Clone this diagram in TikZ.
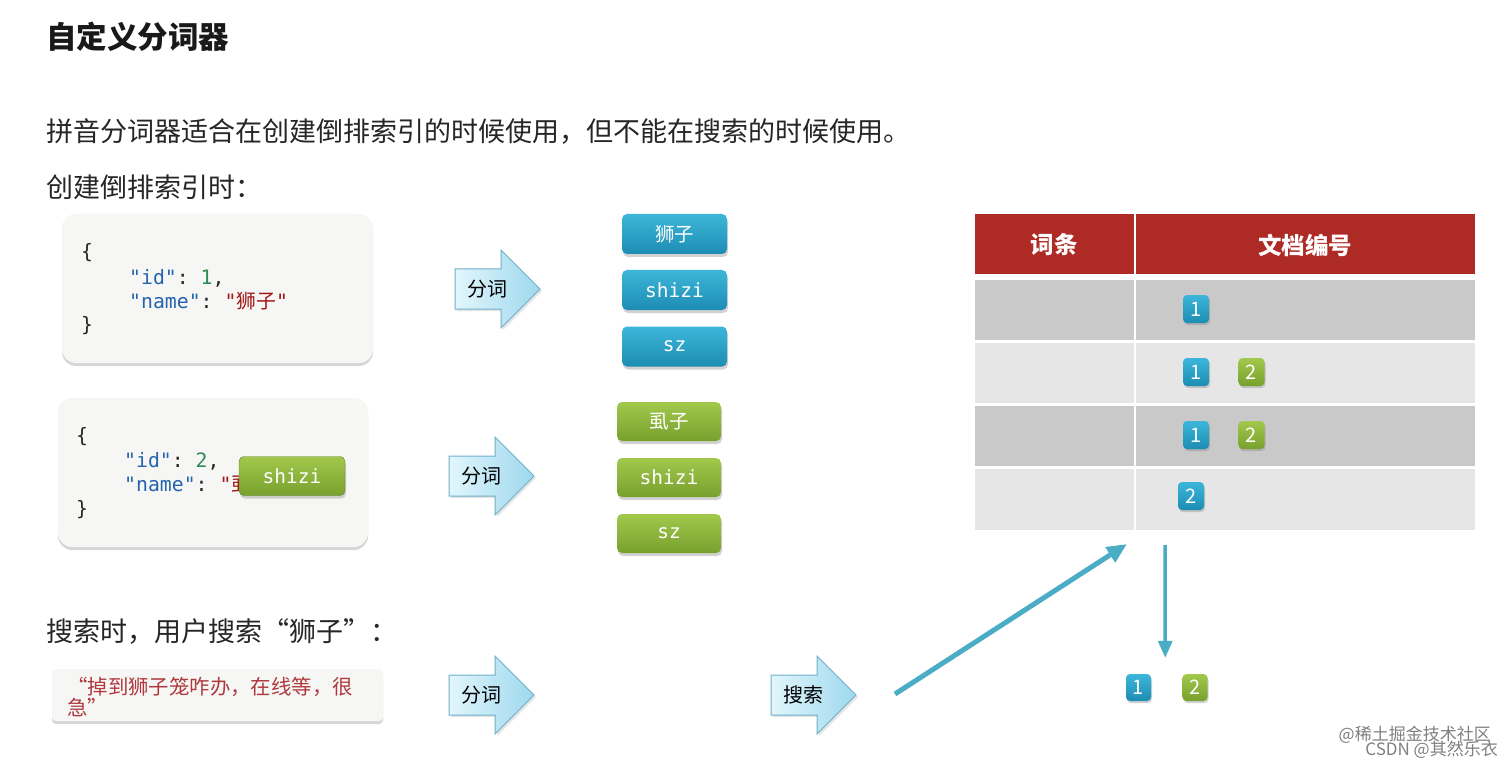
\documentclass[tikz,border=0pt]{standalone}
\usepackage{fontspec}
\setmainfont{Noto Sans CJK SC}
\setmonofont{DejaVu Sans Mono}
\newfontfamily\cjk{Noto Sans CJK SC}
\usetikzlibrary{shadows,arrows.meta,calc}
\definecolor{textdark}{HTML}{262626}
\definecolor{codebg}{HTML}{F6F7F4}
\definecolor{keyblue}{HTML}{2463AD}
\definecolor{numgreen}{HTML}{2E8B57}
\definecolor{strred}{HTML}{A31515}
\definecolor{btnbluetop}{HTML}{3DB6DA}
\definecolor{btnbluebot}{HTML}{1D8CB3}
\definecolor{btngreentop}{HTML}{A2C84C}
\definecolor{btngreenbot}{HTML}{78A02D}
\definecolor{arrowleft}{HTML}{E2F6FC}
\definecolor{arrowright}{HTML}{9ED8EE}
\definecolor{arrowborder}{HTML}{6FB0CB}
\definecolor{headred}{HTML}{AE2A24}
\definecolor{rowdark}{HTML}{C9C9C9}
\definecolor{rowlight}{HTML}{E6E6E6}
\definecolor{teal}{HTML}{4BACC6}
\definecolor{quotered}{HTML}{B0393F}
\definecolor{quotebg}{HTML}{F7F7F2}
\tikzset{
  every node/.style={inner sep=0pt},
  txt/.style={anchor=west, text=textdark, font=\fontsize{27}{30}\selectfont},
  codebox/.style={fill=codebg, rounded corners=14pt,
    drop shadow={fill=black!45, opacity=0.35, shadow xshift=0pt, shadow yshift=-3pt}},
  code/.style={anchor=west, font=\ttfamily\fontsize{19.8}{22}\selectfont, text=textdark},
  btn/.style={rounded corners=5pt, text=white, font=\ttfamily\fontsize{19.5}{22}\selectfont,
    drop shadow={fill=black!50, opacity=0.35, shadow xshift=1pt, shadow yshift=-3pt}},
  btnblue/.style={btn, top color=btnbluetop, bottom color=btnbluebot, minimum width=105pt, minimum height=40pt},
  btngreen/.style={btn, top color=btngreentop, bottom color=btngreenbot, minimum width=104pt, minimum height=39pt},
  badge/.style={rounded corners=4pt, text=white, font=\fontsize{20}{22}\selectfont,
    minimum width=26pt, minimum height=28pt,
    drop shadow={fill=black!50, opacity=0.35, shadow xshift=1pt, shadow yshift=-2pt}},
  badgeblue/.style={badge, top color=btnbluetop, bottom color=btnbluebot},
  badgegreen/.style={badge, top color=btngreentop, bottom color=btngreenbot},
  arrowshape/.style={draw=arrowborder, line width=1pt, left color=arrowleft, right color=arrowright,
    drop shadow={fill=black!40, opacity=0.25, shadow xshift=2pt, shadow yshift=-2pt}},
  arrowtext/.style={text=black, font=\fontsize{20}{22}\selectfont},
  conn/.style={draw=teal, line width=5pt, -{Triangle[length=20pt,width=17pt]}},
  conn2/.style={draw=teal, line width=3.5pt, -{Triangle[length=17pt,width=14pt]}},
}
\newcommand\fcarrow[4]{%
  \begin{scope}[shift={(#2,#3)}]
    \path[arrowshape] (0,-20) -- (46,-20) -- (46,-39) -- (85,0) -- (46,39) -- (46,20) -- (0,20) -- cycle;
    \node[arrowtext] (#1) at (32,0) {#4};
  \end{scope}}
\begin{document}
\begin{tikzpicture}[x=1pt,y=-1pt]
\useasboundingbox[fill=white] (0,0) rectangle (1512,767);

% headings
\node[txt, font=\bfseries\fontsize{30.5}{33}\selectfont, text=black!90] (title) at (46,37) {自定义分词器};
\node[txt] (l1) at (46,131) {拼音分词器适合在创建倒排索引的时候使用，但不能在搜索的时候使用。};
\node[txt] (l2) at (46,187) {创建倒排索引时：};
\node[txt] (l3) at (46,632) {搜索时，用户搜索“狮子”：};

% code box 1
\path[codebox] (62,214) rectangle (373,363);
\node[code] (c1a) at (81,253) {\{};
\node[code] (c1b) at (129,278) {\textcolor{keyblue}{"id"}: \textcolor{numgreen}{1},};
\node[code] (c1c) at (129,301) {\textcolor{keyblue}{"name"}: \textcolor{strred}{"{\cjk 狮子}"}};
\node[code] (c1d) at (81,326) {\}};

% code box 2
\path[codebox] (58,398) rectangle (368,547);
\node[code] (c2a) at (76,437) {\{};
\node[code] (c2b) at (124,461) {\textcolor{keyblue}{"id"}: \textcolor{numgreen}{2},};
\node[code] (c2c) at (124,485) {\textcolor{keyblue}{"name"}: \textcolor{strred}{"{\cjk 虱子}"}};
\node[code] (c2d) at (76,510) {\}};
\node[btngreen, minimum width=106pt, minimum height=39pt, draw=btngreenbot!80!black] (ov) at (292,476) {shizi};

% arrows
\fcarrow{a1}{455}{289}{分词}
\fcarrow{a2}{449}{476}{分词}
\fcarrow{a3}{449}{695}{分词}
\fcarrow{a4}{771}{695}{搜索}

% token buttons
\node[btnblue] (t1) at (674.5,234) {{\cjk 狮子}};
\node[btnblue] (t2) at (674.5,290) {shizi};
\node[btnblue] (t3) at (674.5,346.5) {sz};
\node[btngreen] (g1) at (669,421.5) {{\cjk 虱子}};
\node[btngreen] (g2) at (669,477.5) {shizi};
\node[btngreen] (g3) at (669,533.5) {sz};

% table
\fill[headred] (975,214) rectangle (1475,274);
\fill[white] (1133.5,214) rectangle (1136,274);
\fill[rowdark] (975,280) rectangle (1133.5,340);
\fill[rowdark] (1136,280) rectangle (1475,340);
\fill[rowlight] (975,343) rectangle (1133.5,403);
\fill[rowlight] (1136,343) rectangle (1475,403);
\fill[rowdark] (975,406) rectangle (1133.5,466);
\fill[rowdark] (1136,406) rectangle (1475,466);
\fill[rowlight] (975,469) rectangle (1133.5,530);
\fill[rowlight] (1136,469) rectangle (1475,530);
\node[text=white, font=\bfseries\fontsize{23.5}{26}\selectfont] (h1) at (1054,245) {词条};
\node[text=white, font=\bfseries\fontsize{23.5}{26}\selectfont] (h2) at (1305,245) {文档编号};

\node[badgeblue] (r1a) at (1196,309) {1};
\node[badgeblue] (r2a) at (1196,372) {1};
\node[badgegreen] (r2b) at (1251.5,372) {2};
\node[badgeblue] (r3a) at (1196,435) {1};
\node[badgegreen] (r3b) at (1251.5,435) {2};
\node[badgeblue] (r4a) at (1191,496) {2};

% result
\node[badgeblue, minimum width=25pt, minimum height=27pt] (res1) at (1138.5,687.5) {1};
\node[badgegreen, minimum width=25pt, minimum height=27pt] (res2) at (1195,687.5) {2};

% connectors
\coordinate (s1) at (895,694);
\coordinate (e1) at (1127,544);
\coordinate (s2) at (1165,545);
\draw[conn] (s1) -- (e1);
\draw[conn2] (s2) -- ($(res1.north)!0.5!(res2.north)+(-1.5,-16)$);

% query box
\path[codebox, rounded corners=4pt] (52,669) rectangle (383,721);
\node[anchor=west, text=quotered, font=\fontsize{20.4}{22}\selectfont] (q1) at (67,687) {“掉到狮子笼咋办，在线等，很};
\node[anchor=west, text=quotered, font=\fontsize{20.4}{22}\selectfont] (q2) at (67,708) {急”};

% watermark
\node[anchor=east, text=black!50, font=\fontsize{17}{19}\selectfont] (w1) at (1491,735) {@稀土掘金技术社区};
\node[anchor=east, text=black!50, font=\fontsize{17}{19}\selectfont] (w2) at (1498,750) {CSDN @其然乐衣};
\end{tikzpicture}
\end{document}
